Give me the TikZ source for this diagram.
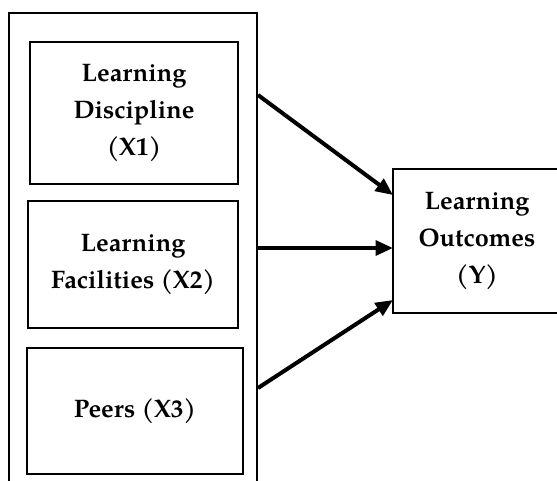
\documentclass[tikz,border=0pt]{standalone}
\usepackage{fontspec}
\setmainfont{TeX Gyre Pagella}
\usetikzlibrary{arrows.meta}
\begin{document}
\begin{tikzpicture}[x=0.75pt,y=-0.75pt,
  box/.style={draw,line width=2pt,align=center,font=\fontsize{19}{27.5}\selectfont\bfseries,inner sep=0pt},
  link/.style={line width=3pt,-{Triangle[length=13pt,width=11pt]}}]
\useasboundingbox (0,0) rectangle (557,480);
\begin{scope}
\clip (0,0) rectangle (557,480);
\node[draw,line width=2pt,minimum width=248*0.75pt,minimum height=480*0.75pt,inner sep=0pt] (outer) at (133,253) {};
\node[box,minimum width=208*0.75pt,minimum height=142*0.75pt] (x1) at (134,113) {Learning\\Discipline\\(X1)};
\node[box,minimum width=210*0.75pt,minimum height=127*0.75pt] (x2) at (133,264.5) {Learning\\Facilities (X2)};
\node[box,minimum width=216*0.75pt,minimum height=126*0.75pt] (x3) at (135,411) {Peers (X3)};
\node[box,minimum width=168*0.75pt,minimum height=144*0.75pt] (y) at (477,241) {Learning\\Outcomes\\(Y)};
\end{scope}
\coordinate (s1) at (258,95);
\coordinate (s2) at (258,248);
\coordinate (s3) at (258,388);
\coordinate (e1) at (393,195);
\coordinate (e2) at (393,248);
\coordinate (e3) at (393,300);
\draw[link] (s1) -- (e1);
\draw[link] (s2) -- (e2);
\draw[link] (s3) -- (e3);
\end{tikzpicture}
\end{document}
